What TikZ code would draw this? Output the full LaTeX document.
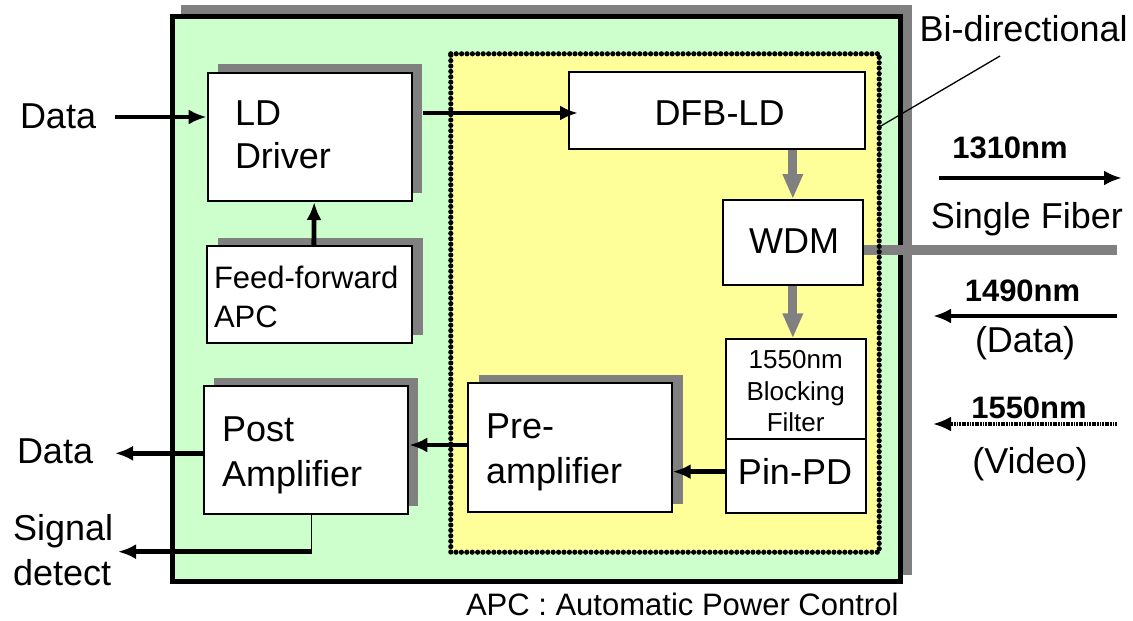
\documentclass[tikz,border=0pt]{standalone}
\usepackage{fontspec}
\setmainfont{Liberation Sans}
\usetikzlibrary{arrows.meta,shadows,decorations.markings}
\definecolor{boardgreen}{HTML}{CCFFCC}
\definecolor{optyellow}{HTML}{FFFF99}
\definecolor{shgray}{HTML}{808080}

\begin{document}
\begin{tikzpicture}[x=1pt,y=-1pt,
  box/.style={draw=black,line width=2pt,fill=white,inner sep=0pt,rectangle},
  shbox/.style={box,general shadow={fill=shgray,shadow xshift=10.5pt,shadow yshift=8.5pt}},
  txt/.style={inner sep=0pt,outer sep=0pt,text=black},
  big/.style={txt,font=\fontsize{36}{43}\selectfont},
  mid/.style={txt,font=\fontsize{31}{39}\selectfont},
  small/.style={txt,font=\fontsize{26}{31.7}\selectfont},
  wave/.style={txt,font=\fontsize{31}{37}\selectfont\bfseries},
  arr/.style={line width=4.8pt,-{Latex[length=18pt,width=15pt]}},
  garr/.style={line width=9pt,draw=shgray,-{Triangle[length=25pt,width=19pt]}},
  beadline/.style={decorate,decoration={markings,
      mark=between positions 0 and 1 step 5.4pt with {\fill[black] (0,0) circle (2.6pt);}}},
]
\useasboundingbox (0,0) rectangle (1133,621);

% transceiver housing with its shadow
\fill[shgray] (181,5) rectangle (912,575);
\draw[line width=5pt,fill=boardgreen] (172.5,16.5) rectangle (900,581);

% bi-directional optical sub-assembly
\node[fill=optyellow,inner sep=0pt,minimum width=428pt,minimum height=498pt] (osa) at (665,303) {};

% electrical blocks (multi-line labels are placed by the baseline of their last line)
\node[shbox,minimum width=204pt,minimum height=128.3pt] (ld) at (309.7,136.85) {};
\node[big,anchor=base west,align=left] (ldtxt) at (235,168.3) {LD\\Driver};

\node[box,general shadow={fill=shgray,shadow xshift=11pt,shadow yshift=8pt},
      minimum width=204.7pt,minimum height=96.7pt] (ff) at (309.35,294.35) {};
\node[mid,anchor=base west,align=left] (fftxt) at (214,327.3) {Feed-forward\\APC};

\node[box,general shadow={fill=shgray,shadow xshift=10pt,shadow yshift=8pt},
      minimum width=204.3pt,minimum height=128.6pt] (post) at (306.15,450) {};
\node[big,anchor=base west,align=left,font=\fontsize{36}{45}\selectfont] (posttxt) at (222,486.7) {Post\\Amplifier};

\node[box,general shadow={fill=shgray,shadow xshift=11pt,shadow yshift=8pt},
      minimum width=203.7pt,minimum height=128.7pt] (pre) at (569.85,447.35) {};
\node[big,anchor=base west,align=left,font=\fontsize{36}{45}\selectfont] (pretxt) at (486,483.3) {Pre-\\amplifier};

% optical blocks
\node[box,minimum width=296pt,minimum height=76.7pt] (dfb) at (717,110.65) {};
\node[big,anchor=base] (dfbtxt) at (719.5,125) {DFB-LD};

\node[box,minimum width=140.3pt,minimum height=85pt] (wdm) at (792.85,242.5) {};
\node[big,anchor=base] (wdmtxt) at (794,253.3) {WDM};

\node[box,minimum width=139.7pt,minimum height=99.7pt] (filt) at (795.85,389.15) {};
\node[small,anchor=base,align=center] (filttxt) at (795.7,431.7) {1550nm\\Blocking\\Filter};

\node[box,minimum width=139.7pt,minimum height=74.3pt] (pin) at (795.85,476.15) {};
\node[big,anchor=base] (pintxt) at (795,484) {Pin-PD};

% single fiber leaving the WDM
\coordinate (fib) at (1117,250);
\draw[shgray,line width=10pt] (wdm.east |- fib) -- (fib);

% beaded outline of the sub-assembly
\path[beadline] (osa.north west) -- (osa.north east) -- (osa.south east)
  -- (osa.south west) -- cycle;

% optical paths
\draw[garr] (dfb.south -| wdm.north) -- (wdm.north);
\draw[garr] (wdm.south) -- (wdm.south |- filt.north);

% electrical signal paths
\coordinate (din) at (115,117);
\draw[arr] (din) -- (din -| ld.west);
\draw[arr] ([shift={(10,-23.85)}]ld.east) -- ([shift={(10,-23.85)}]ld.east -| dfb.west);
\draw[arr] ([xshift=4.5pt]ff.north) -- ([xshift=4.5pt]ld.south);
\draw[arr] ([yshift=4.5pt]pin.west) -- ([yshift=4.5pt]pin.west -| pre.east);
\draw[arr] ([yshift=2.35pt]pre.west) -- ([yshift=2.35pt]pre.west -| post.east);
\coordinate (dout) at (115,453.3);
\draw[arr] (post.west |- dout) -- (dout);
\coordinate (sd) at (311.7,551.7);
\coordinate (sdout) at (118,551.7);
\draw[line width=1.5pt] (post.south -| sd) -- (sd);
\draw[arr] ([xshift=0.75pt]sd) -- (sdout);

% external labels
\node[big,anchor=base west] (dinlbl) at (20,128) {Data};
\node[big,anchor=base west] (doutlbl) at (17,463.3) {Data};
\node[big,anchor=base west,align=left,font=\fontsize{36}{45}\selectfont] (sdlbl) at (13,585) {Signal\\detect};

% bi-directional call-out
\node[big,anchor=base west] (bdlbl) at (919.5,41.7) {Bi-directional};
\coordinate (lead) at (1000,56);
\draw[line width=1.3pt] (lead) -- (osa.east |- 0,127);

% wavelengths on the fiber
\node[wave,anchor=base] (w1310) at (1010,158.3) {1310nm};
\coordinate (t1a) at (939,178);
\coordinate (t1b) at (1122,178);
\draw[arr] (t1a) -- (t1b);
\node[big,anchor=base] (sflbl) at (1027,228.3) {Single Fiber};

\node[wave,anchor=base] (w1490) at (1022.5,301.7) {1490nm};
\coordinate (r1a) at (1117,316);
\coordinate (r1b) at (933,316);
\draw[arr] (r1a) -- (r1b);
\node[big,anchor=base] (datalbl) at (1025,352) {(Data)};

\node[wave,anchor=base] (w1550) at (1029,418.3) {1550nm};
\coordinate (r2a) at (1117,424);
\coordinate (r2b) at (933,424);
\draw[line width=3.2pt,dash pattern=on 1.8pt off 0.8pt,-{Latex[length=18pt,width=15pt]}] (r2a) -- (r2b);
\node[big,anchor=base] (vidlbl) at (1030,473) {(Video)};

% footnote
\node[mid,anchor=base west] (note) at (466,615) {APC : Automatic Power Control};
\end{tikzpicture}
\end{document}
